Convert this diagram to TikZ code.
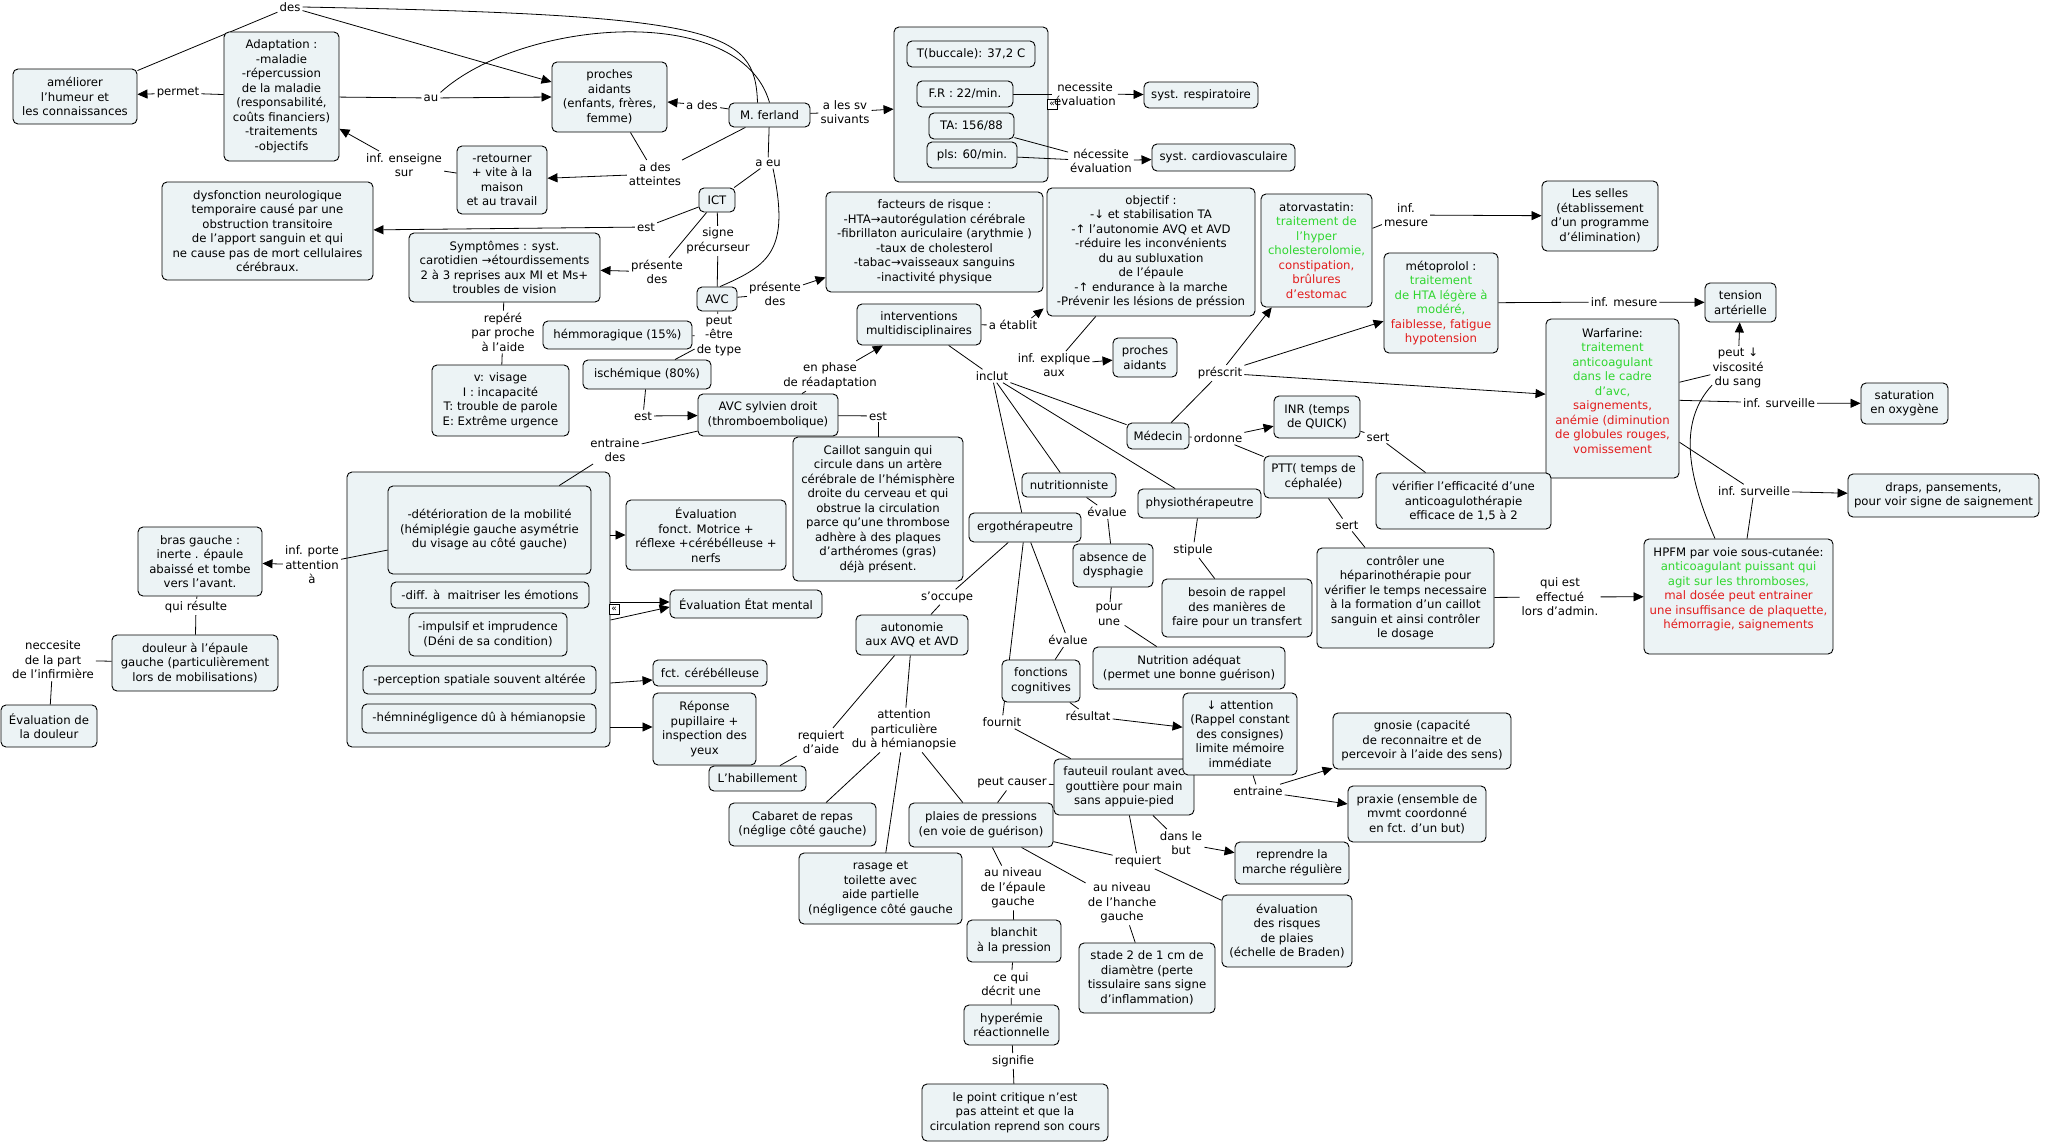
\documentclass[tikz,border=0pt]{standalone}
\usepackage{fontspec}
\setmainfont{DejaVu Sans}
\usetikzlibrary{arrows.meta}
\definecolor{boxfill}{RGB}{236,243,245}
\definecolor{tgreen}{RGB}{48,214,48}
\definecolor{tred}{RGB}{226,28,28}
\pgfdeclarelayer{contl}
\pgfdeclarelayer{edgel}
\pgfsetlayers{contl,edgel,main}
\newcommand\gtxt[1]{\textcolor{tgreen}{#1}}
\newcommand\rtxt[1]{\textcolor{tred}{#1}}
\newcommand\bx[6]{\node[cbox,minimum width={(#4)-(#2)},minimum height={(#5)-(#3)}] (#1) at ({((#2)+(#4))/2},{((#3)+(#5))/2}) {#6};}
\begin{document}
\begin{tikzpicture}[x=1pt,y=-1pt,
  every node/.style={font=\fontsize{11.7}{14.5}\selectfont},
  cbox/.style={draw,line width=0.9pt,rounded corners=5pt,fill=boxfill,align=center,inner sep=0pt},
  lbl/.style={align=center,inner sep=2pt},
  ln/.style={line width=0.8pt},
  arr/.style={line width=0.8pt,-{Triangle[length=10pt,width=9pt]}},
  icon/.style={draw,fill=white,line width=0.6pt,inner sep=0pt,minimum size=10pt,font=\fontsize{9}{9}\selectfont}]
\useasboundingbox (0,0) rectangle (2063,1143);
% containers
\begin{pgfonlayer}{contl}
\bx{cont}{894}{27}{1048}{182}{}
\bx{big}{347}{472}{610}{747}{}
\end{pgfonlayer}
% boxes
\bx{ame}{13}{69}{137}{124}{améliorer\\l'humeur et\\les connaissances}
\bx{adapt}{224}{32}{339}{161}{Adaptation :\\-maladie\\-répercussion\\de la maladie\\(responsabilité,\\coûts financiers)\\-traitements\\-objectifs}
\bx{pa1}{552}{62}{667}{132}{proches\\aidants\\(enfants, frères,\\femme)}
\bx{ferl}{729}{103}{810}{127}{M. ferland}
\bx{ret}{457}{146}{547}{214}{-retourner\\+ vite à la\\maison\\et au travail}
\bx{dysf}{162}{182}{373}{280}{dysfonction neurologique\\temporaire causé par une\\obstruction transitoire\\de l'apport sanguin et qui\\ne cause pas de mort cellulaires\\cérébraux.}
\bx{sympt}{409}{233}{600}{302}{Symptômes : syst.\\carotidien →étourdissements\\2 à 3 reprises aux MI et Ms+\\troubles de vision}
\bx{ict}{699}{188}{735}{212}{ICT}
\bx{avc}{697}{287}{737}{311}{AVC}
\bx{hemm}{543}{321}{692}{349}{hémmoragique (15\%)}
\bx{isch}{583}{360}{711}{389}{ischémique (80\%)}
\bx{vis}{432}{365}{569}{436}{v: visage\\I : incapacité\\T: trouble de parole\\E: Extrême urgence}
\bx{temp}{907}{41}{1035}{67}{T(buccale): 37,2 C}
\bx{fr}{917}{81}{1013}{107}{F.R : 22/min.}
\bx{ta}{929}{113}{1014}{139}{TA: 156/88}
\bx{pls}{927}{142}{1017}{168}{pls: 60/min.}
\bx{resp}{1144}{82}{1258}{108}{syst. respiratoire}
\bx{cardio}{1152}{144}{1295}{171}{syst. cardiovasculaire}
\bx{fact}{826}{192}{1043}{292}{facteurs de risque :\\-HTA→autorégulation cérébrale\\-fibrillaton auriculaire (arythmie )\\-taux de cholesterol\\-tabac→vaisseaux sanguins\\-inactivité physique}
\bx{obj}{1047}{188}{1255}{316}{objectif :\\-↓ et stabilisation TA\\-↑ l'autonomie AVQ et AVD\\-réduire les inconvénients\\du au subluxation\\de l'épaule\\-↑ endurance à la marche\\-Prévenir les lésions de préssion}
\bx{ator}{1261}{194}{1372}{307}{atorvastatin:\\\gtxt{traitement de}\\\gtxt{l'hyper}\\\gtxt{cholesterolomie,}\\\rtxt{constipation,}\\\rtxt{brûlures}\\\rtxt{d'estomac}}
\bx{selles}{1542}{181}{1658}{251}{Les selles\\(établissement\\d'un programme\\d'élimination)}
\bx{meto}{1384}{253}{1498}{353}{métoprolol :\\\gtxt{traitement}\\\gtxt{de HTA légère à}\\\gtxt{modéré,}\\\rtxt{faiblesse, fatigue}\\\rtxt{hypotension}}
\bx{tens}{1705}{283}{1776}{322}{tension\\artérielle}
\bx{interv}{857}{304}{981}{345}{interventions\\multidisciplinaires}
\bx{pa2}{1113}{338}{1177}{377}{proches\\aidants}
\bx{sylv}{698}{394}{838}{436}{AVC sylvien droit\\(thromboembolique)}
\bx{caill}{793}{437}{963}{581}{Caillot sanguin qui\\circule dans un artère\\cérébrale de l'hémisphère\\droite du cerveau et qui\\obstrue la circulation\\parce qu'une thrombose\\adhère à des plaques\\d'arthéromes (gras)\\déjà présent.}
\bx{deter}{388}{486}{591}{574}{-détérioration de la mobilité\\(hémiplégie gauche asymétrie\\du visage au côté gauche)}
\bx{diff}{391}{582}{589}{608}{-diff. à\ \ maitriser les émotions}
\bx{impul}{409}{613}{567}{656}{-impulsif et imprudence\\(Déni de sa condition)}
\bx{perc}{363}{666}{596}{694}{-perception spatiale souvent altérée}
\bx{hemn}{362}{704}{596}{733}{-hémninégligence dû à hémianopsie}
\bx{evfm}{626}{500}{786}{570}{Évaluation\\fonct. Motrice +\\réflexe +cérébélleuse +\\nerfs}
\bx{evem}{670}{590}{822}{618}{Évaluation État mental}
\bx{fctc}{653}{660}{767}{686}{fct. cérébélleuse}
\bx{repp}{653}{693}{756}{765}{Réponse\\pupillaire +\\inspection des\\yeux}
\bx{bras}{138}{527}{262}{596}{bras gauche :\\inerte . épaule\\abaissé et tombe\\vers l'avant.}
\bx{doul}{112}{635}{278}{691}{douleur à l'épaule\\gauche (particulièrement\\lors de mobilisations)}
\bx{evdoul}{1}{705}{97}{747}{Évaluation de\\la douleur}
\bx{warf}{1546}{319}{1679}{478}{}
\node[align=center] (warft) at (1612.5,391) {Warfarine:\\\gtxt{traitement}\\\gtxt{anticoagulant}\\\gtxt{dans le cadre}\\\gtxt{d'avc,}\\\rtxt{saignements,}\\\rtxt{anémie (diminution}\\\rtxt{de globules rouges,}\\\rtxt{vomissement}};
\bx{satur}{1861}{383}{1948}{424}{saturation\\en oxygène}
\bx{draps}{1848}{474}{2039}{517}{draps, pansements,\\pour voir signe de saignement}
\bx{hpfm}{1644}{539}{1833}{654}{}
\node[align=center] (hpfmt) at (1738.5,589) {HPFM par voie sous-cutanée:\\\gtxt{anticoagulant puissant qui}\\\gtxt{agit sur les thromboses,}\\\rtxt{mal dosée peut entrainer}\\\rtxt{une insuffisance de plaquette,}\\\rtxt{hémorragie, saignements}};
\bx{medec}{1127}{423}{1189}{449}{Médecin}
\bx{inr}{1274}{396}{1360}{438}{INR (temps\\de QUICK)}
\bx{verif}{1376}{473}{1551}{529}{vérifier l'efficacité d'une\\anticoagulothérapie\\efficace de 1,5 à 2}
\bx{ptt}{1264}{456}{1363}{498}{PTT( temps de\\céphalée)}
\bx{contr}{1317}{548}{1494}{648}{contrôler une\\héparinothérapie pour\\vérifier le temps necessaire\\à la formation d'un caillot\\sanguin et ainsi contrôler\\le dosage}
\bx{nutri}{1022}{473}{1116}{497}{nutritionniste}
\bx{absd}{1073}{544}{1153}{587}{absence de\\dysphagie}
\bx{nutad}{1093}{647}{1285}{689}{Nutrition adéquat\\(permet une bonne guérison)}
\bx{physio}{1138}{489}{1261}{518}{physiothérapeutre}
\bx{besoin}{1162}{579}{1312}{637}{besoin de rappel\\des manières de\\faire pour un transfert}
\bx{ergo}{969}{513}{1081}{542}{ergothérapeutre}
\bx{fonct}{1002}{660}{1080}{702}{fonctions\\cognitives}
\bx{auton}{856}{615}{968}{655}{autonomie\\aux AVQ et AVD}
\bx{habil}{709}{766}{806}{791}{L'habillement}
\bx{cabar}{729}{803}{876}{846}{Cabaret de repas\\(néglige côté gauche)}
\bx{rasag}{799}{853}{962}{924}{rasage et\\toilette avec\\aide partielle\\(négligence côté gauche}
\bx{plaies}{909}{803}{1053}{847}{plaies de pressions\\(en voie de guérison)}
\bx{blanch}{967}{920}{1061}{962}{blanchit\\à la pression}
\bx{hyper}{964}{1005}{1059}{1045}{hyperémie\\réactionnelle}
\bx{pointc}{922}{1084}{1108}{1141}{le point critique n'est\\pas atteint et que la\\circulation reprend son cours}
\bx{faut}{1054}{759}{1194}{815}{fauteuil roulant avec\\gouttière pour main\\sans appuie-pied}
\bx{atten}{1183}{693}{1297}{775}{↓ attention\\(Rappel constant\\des consignes)\\limite mémoire\\immédiate}
\bx{gnos}{1333}{713}{1511}{769}{gnosie (capacité\\de reconnaitre et de\\percevoir à l'aide des sens)}
\bx{prax}{1348}{786}{1486}{842}{praxie (ensemble de\\mvmt coordonné\\en fct. d'un but)}
\bx{repr}{1235}{842}{1349}{884}{reprendre la\\marche régulière}
\bx{evris}{1222}{895}{1352}{967}{évaluation\\des risques\\de plaies\\(échelle de Braden)}
\bx{stade}{1079}{943}{1215}{1013}{stade 2 de 1 cm de\\diamètre (perte\\tissulaire sans signe\\d'inflammation)}
% icons
\node[icon] (ic1) at (1052,104) {«};
\node[icon] (ic2) at (614,609) {«};
% linking phrases
\node[lbl] (des) at (290,7) {des};
\node[lbl] (permet) at (178,93) {permet};
\node[lbl] (au) at (431,98) {au};
\node[lbl] (enseigne) at (404,165) {inf. enseigne\\sur};
\node[lbl] (ades) at (702,105) {a des};
\node[lbl] (sv) at (845,112) {a les sv\\suivants};
\node[lbl] (atteint) at (655,174) {a des\\atteintes};
\node[lbl] (aeu) at (768,163) {a eu};
\node[lbl] (est1) at (646,227) {est};
\node[lbl] (signe) at (718,241) {signe\\précurseur};
\node[lbl] (pres1) at (657,272) {présente\\des};
\node[lbl] (pres2) at (775,294) {présente\\des};
\node[lbl] (peut) at (719,336) {peut\\-être\\de type};
\node[lbl] (repere) at (503,332) {repéré\\par proche\\à l'aide};
\node[lbl] (est2) at (643,416) {est};
\node[lbl] (est3) at (878,416) {est};
\node[lbl] (entr) at (615,450) {entraine\\des};
\node[lbl] (phase) at (830,376) {en phase\\de réadaptation};
\node[lbl] (inclut) at (992,376) {inclut};
\node[lbl] (etab) at (1013,325) {a établit};
\node[lbl] (nec1) at (1085,94) {necessite\\évaluation};
\node[lbl] (nec2) at (1101,161) {nécessite\\évaluation};
\node[lbl] (expl) at (1054,365) {inf. explique\\aux};
\node[lbl] (presc) at (1220,373) {préscrit};
\node[lbl] (mes1) at (1406,215) {inf.\\mesure};
\node[lbl] (mes2) at (1624,302) {inf. mesure};
\node[lbl] (visc) at (1738,368) {peut ↓\\viscosité\\du sang};
\node[lbl] (surv1) at (1779,403) {inf. surveille};
\node[lbl] (surv2) at (1754,491) {inf. surveille};
\node[lbl] (quiest) at (1560,597) {qui est\\effectué\\lors d'admin.};
\node[lbl] (ordon) at (1218,438) {ordonne};
\node[lbl] (sert1) at (1378,437) {sert};
\node[lbl] (sert2) at (1347,525) {sert};
\node[lbl] (eval1) at (1107,512) {évalue};
\node[lbl] (pour) at (1109,615) {pour\\une};
\node[lbl] (stip) at (1193,550) {stipule};
\node[lbl] (eval2) at (1068,640) {évalue};
\node[lbl] (result) at (1088,716) {résultat};
\node[lbl] (fourn) at (1002,722) {fournit};
\node[lbl] (occupe) at (947,597) {s'occupe};
\node[lbl] (requ1) at (821,742) {requiert\\d'aide};
\node[lbl] (attpart) at (904,730) {attention\\particulière\\du à hémianopsie};
\node[lbl] (peutc) at (1012,783) {peut causer};
\node[lbl] (niv1) at (1013,888) {au niveau\\de l'épaule\\gauche};
\node[lbl] (cequi) at (1011,984) {ce qui\\décrit une};
\node[lbl] (signif) at (1013,1061) {signifie};
\node[lbl] (entr2) at (1258,791) {entraine};
\node[lbl] (dans) at (1181,843) {dans le\\but};
\node[lbl] (requ2) at (1138,861) {requiert};
\node[lbl] (niv2) at (1122,903) {au niveau\\de l'hanche\\gauche};
\node[lbl] (porte) at (312,565) {inf. porte\\attention\\à};
\node[lbl] (result2) at (196,607) {qui résulte};
\node[lbl] (necc) at (53,660) {neccesite\\de la part\\de l'infirmière};
% connectors
\begin{pgfonlayer}{edgel}
\draw[ln] (des) -- (ame);
\draw[arr] (des) -- ([yshift=15pt]pa1.west);
\draw[ln] (des.east) .. controls (720,15) and (755,30) .. ([xshift=-12pt]ferl.north);
\draw[ln] (adapt) -- (au);
\draw[arr] (au) -- (pa1.west);
\draw[ln] (au.north east) .. controls (520,20) and (740,0) .. (ferl.north);
\draw[ln] (adapt) -- (permet);
\draw[arr] (permet) -- (ame);
\draw[ln] (ret) -- (enseigne);
\draw[arr] (enseigne) -- (adapt);
\draw[ln] (ferl) -- (ades); \draw[arr] (ades) -- (pa1);
\draw[ln] (ferl) -- (sv); \draw[arr] (sv) -- (cont);
\draw[ln] (pa1) -- (atteint); \draw[ln] (ferl) -- (atteint); \draw[arr] (atteint) -- (ret);
\draw[ln] (ferl) -- (aeu); \draw[ln] (aeu) -- (ict);
\draw[ln] ([xshift=5pt]aeu.south) .. controls (790,250) and (770,265) .. ([xshift=3pt]avc.north);
\draw[ln] (ict) -- (est1); \draw[arr] (est1) -- (dysf);
\draw[ln] (ict) -- (signe); \draw[ln] (signe) -- (avc);
\draw[ln] (ict) -- (pres1); \draw[arr] (pres1) -- (sympt);
\draw[ln] (avc) -- (pres2); \draw[arr] (pres2) -- (fact);
\draw[ln] (avc) -- (peut); \draw[ln] (peut) -- (hemm); \draw[ln] (peut) -- (isch);
\draw[ln] (sympt) -- (repere); \draw[ln] (repere) -- (vis);
\draw[ln] (isch) -- (est2); \draw[arr] (est2) -- (sylv);
\draw[ln] (sylv) -- (est3); \draw[ln] (est3) -- (caill);
\draw[ln] (sylv) -- (entr); \draw[ln] (entr) -- (deter);
\draw[ln] (sylv) -- (phase); \draw[arr] (phase) -- (interv);
\draw[ln] (interv) -- (etab);
\draw[arr] ([xshift=-8pt]etab.north east) -- ([xshift=-3pt,yshift=8pt]obj.south west);
\draw[ln] (interv) -- (inclut);
\draw[ln] (inclut) -- (medec); \draw[ln] (inclut) -- (physio);
\draw[ln] (inclut) -- (nutri); \draw[ln] (inclut) -- (ergo);
\draw[ln] (fr) -- (nec1); \draw[arr] (nec1) -- (resp);
\draw[ln] (ta) -- (nec2); \draw[ln] (pls) -- (nec2); \draw[arr] (nec2) -- (cardio);
\draw[ln] (obj) -- (expl); \draw[arr] (expl) -- (pa2);
\draw[ln] (medec) -- (presc); \draw[arr] (presc) -- (ator);
\draw[arr] (presc) -- (meto); \draw[arr] (presc) -- (warf);
\draw[ln] (ator) -- (mes1); \draw[arr] (mes1) -- (selles);
\draw[ln] (meto) -- (mes2); \draw[arr] (mes2) -- (tens);
\draw[ln] (warf) -- (visc); \draw[arr] (visc) -- (tens);
\draw[ln] ([xshift=-23.5pt]hpfm.north) .. controls (1685,470) and (1680,420) .. ([xshift=-26pt,yshift=5pt]visc.south);
\draw[ln] (warf) -- (surv1); \draw[arr] (surv1) -- (satur);
\draw[ln] (warf) -- (surv2); \draw[ln] (surv2) -- (hpfm); \draw[arr] (surv2) -- (draps);
\draw[ln] (contr) -- (quiest); \draw[arr] (quiest) -- (hpfm);
\draw[ln] (medec) -- (ordon); \draw[arr] (ordon) -- (inr); \draw[ln] (ordon) -- (ptt);
\draw[ln] (inr) -- (sert1); \draw[ln] (sert1) -- (verif);
\draw[ln] (ptt) -- (sert2); \draw[ln] (sert2) -- (contr);
\draw[ln] (nutri) -- (eval1); \draw[ln] (eval1) -- (absd);
\draw[ln] (absd) -- (pour); \draw[ln] (pour) -- (nutad);
\draw[ln] (physio) -- (stip); \draw[ln] (stip) -- (besoin);
\draw[ln] (ergo) -- (eval2); \draw[ln] (eval2) -- (fonct);
\draw[ln] (fonct) -- (result); \draw[arr] (result) -- (atten);
\draw[ln] (ergo) -- (fourn); \draw[ln] (fourn) -- (faut);
\draw[ln] (ergo) -- (occupe); \draw[ln] (occupe) -- (auton);
\draw[ln] (auton) -- (requ1); \draw[ln] (requ1) -- (habil);
\draw[ln] (auton) -- (attpart);
\draw[ln] (attpart) -- (cabar); \draw[ln] (attpart) -- (rasag); \draw[ln] (attpart) -- (plaies);
\draw[ln] (plaies) -- (peutc); \draw[ln] (peutc) -- (faut);
\draw[ln] (plaies) -- (niv1); \draw[ln] (niv1) -- (blanch);
\draw[ln] (blanch) -- (cequi); \draw[ln] (cequi) -- (hyper);
\draw[ln] (hyper) -- (signif); \draw[ln] (signif) -- (pointc);
\draw[ln] (atten) -- (entr2); \draw[arr] (entr2) -- (gnos); \draw[arr] (entr2) -- (prax);
\draw[ln] (faut) -- (dans); \draw[arr] (dans) -- (repr);
\draw[ln] (faut) -- (requ2); \draw[ln] (plaies) -- (requ2); \draw[ln] (requ2) -- (evris);
\draw[ln] (plaies) -- (niv2); \draw[ln] (niv2) -- (stade);
\draw[arr] ([yshift=74.5pt]big.east) -- (evfm.west);
\draw[arr] ([yshift=7.5pt]big.east) -- ([yshift=2pt]evem.west);
\draw[arr] ([yshift=-10.5pt]big.east) -- ([yshift=-3pt]evem.west);
\draw[arr] ([yshift=-73.5pt]big.east) -- ([yshift=-7pt]fctc.west);
\draw[arr] ([yshift=-117.5pt]big.east) -- ([yshift=2pt]repp.west);
\draw[ln] (deter) -- (porte); \draw[arr] (porte) -- (bras);
\draw[ln] (bras) -- (result2); \draw[ln] (result2) -- (doul);
\draw[ln] (doul) -- (necc); \draw[ln] (necc) -- (evdoul);
\end{pgfonlayer}
\end{tikzpicture}
\end{document}
